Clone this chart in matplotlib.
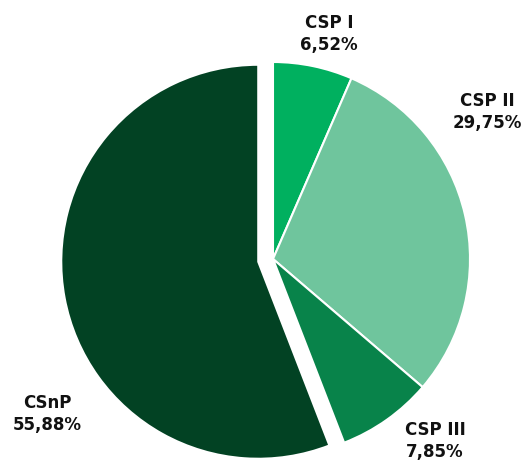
import matplotlib
matplotlib.use("Agg")
import matplotlib.pyplot as plt

labels = ["CSP I", "CSP II", "CSP III", "CSnP"]
shares = [6.52, 29.75, 7.85, 55.88]
colors = ["#00b05f", "#6fc59d", "#08834a", "#024223"]

# label anchor positions in pixel coords (x, y from bottom)
label_pos = [(329, 427), (487, 349), (435, 20), (47, 47)]

W, H = 528, 461
fig = plt.figure(figsize=(W / 100, H / 100), dpi=100)
ax = fig.add_axes([0, 0, 1, 1])

# explode is an absolute offset here since radius is in pixels
ax.pie(
    shares,
    colors=colors,
    explode=[0, 0, 0, 15],
    startangle=90,
    counterclock=False,
    center=(273, 202),
    radius=197,
    wedgeprops={"edgecolor": "white", "linewidth": 1.5},
    frame=True,
)
ax.set_xlim(0, W)
ax.set_ylim(0, H)
ax.set_aspect("equal")
ax.axis("off")

for name, val, (x, y) in zip(labels, shares, label_pos):
    txt = f"{name}\n{val:.2f}%".replace(".", ",")
    ax.text(x, y, txt, ha="center", va="center", fontsize=12,
            fontweight="bold", color="#111111", linespacing=1.25)

fig.savefig("out.png", dpi=100)
